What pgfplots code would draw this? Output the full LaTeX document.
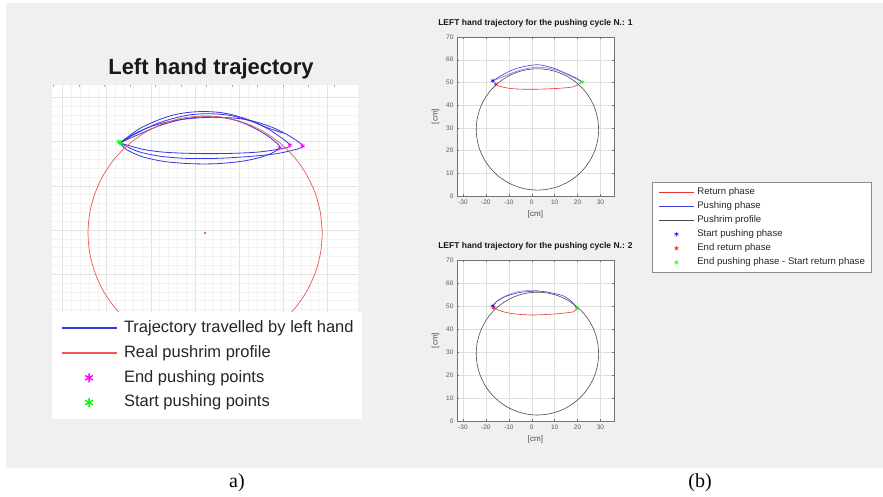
\documentclass[border=0pt]{standalone}
\usepackage{pgfplots}
\pgfplotsset{compat=1.18}
\usepackage{fontspec}
\setmainfont{Liberation Sans}
\newfontfamily\serifF{Liberation Serif}
\definecolor{bgg}{HTML}{F0F0F0}
\definecolor{txt}{HTML}{262626}
\definecolor{ablue}{HTML}{3838E0}
\definecolor{ared}{HTML}{F05555}
\definecolor{bblue}{HTML}{4040DC}
\definecolor{bred}{HTML}{E83535}
\definecolor{circ}{HTML}{4A4A4A}
\definecolor{mgreen}{HTML}{00FF00}
\definecolor{mmag}{HTML}{FF00FF}
\begin{document}
\begin{tikzpicture}
\useasboundingbox (0pt,0pt) rectangle (883pt,497pt);
\fill[white] (0pt,0pt) rectangle (883pt,497pt);
\fill[bgg] (6pt,29pt) rectangle (883pt,494pt);

% ---------------- panel a ----------------
\begin{axis}[
  at={(52pt,82pt)}, anchor=south west,
  scale only axis, width=306pt, height=330pt,
  xmin=-32.35, xmax=36.9, ymin=-11.86, ymax=62.8,
  axis background/.style={fill=white},
  axis line style={draw=none},
  xtick={-30,-20,...,30}, ytick={-10,0,...,60},
  minor tick num=4,
  grid=both,
  major grid style={color=black!11, line width=0.4pt},
  minor grid style={color=black!5, line width=0.4pt},
  xticklabels={}, yticklabels={},
  major tick length=0pt, minor tick length=0pt,
  xtick pos=upper, ytick pos=left, tick align=inside,
  extra x ticks={-32.05,-26.28,-20.5,-14.73,-8.96,-3.19,2.58,8.35,14.12,19.89,25.66,31.43},
  extra x tick labels={},
  extra x tick style={grid=none, major tick length=2pt, tick style={black!35, line width=0.4pt}},
  title={Left hand trajectory},
  title style={font=\bfseries\fontsize{22}{24}\selectfont, text=black!90, xshift=6pt, yshift=-4pt},
  legend cell align=left,
  legend image code/.code={\draw[mark repeat=2,mark phase=2,#1, line width=1.4pt, mark size=4.5pt] plot coordinates {(0pt,0pt)(27.5pt,0pt)(55pt,0pt)};},
  legend style={at={(0,0.3121)}, anchor=north west, draw=none, fill=white,
    font=\fontsize{16.5}{18}\selectfont, text=txt, inner xsep=8.7pt, inner ysep=8.2pt,
    row sep=9.3pt, nodes={inner sep=0pt, text height=12pt, text depth=3.5pt},
    /tikz/every odd column/.append style={column sep=6.7pt}},
]
\addplot[ablue, line width=0.8pt, smooth] coordinates {(-17.0,49.7) (-14,51.6) (-10,53.4) (-5,54.7) (0,55.3) (5,55.5) (10,55.2) (14,54.4) (18,53.0) (21.5,51.2) (24.4,49.0) (22,48.0) (18,47.2) (12,46.6) (5,46.2) (-2,46.2) (-8,46.7) (-13,47.8) (-17.0,49.7)};
\addlegendentry{Trajectory travelled by left hand}
\addplot[ablue, line width=0.8pt, smooth, forget plot] coordinates {(-17,49.7) (-13,51.5) (-8,53.6) (-3,55.0) (2,55.6) (7,55.3) (11,54.2) (15,52.2) (17.5,50.5) (19.2,48.6) (16,46.8) (11,45.6) (5,45.0) (-1,45.0) (-7,45.5) (-12,46.6) (-15.5,48.2) (-17,49.7)};
\addplot[ablue, line width=0.8pt, smooth, forget plot] coordinates {(-17,49.7) (-13,52.0) (-8,54.3) (-2,55.9) (3,56.3) (8,55.9) (13,54.5) (17,52.6) (21.5,49.2) (19,48.3) (14,47.6) (7,47.3) (0,47.3) (-7,47.6) (-12,48.3) (-17,49.7)};
\addplot[ablue, line width=0.8pt, smooth, forget plot] coordinates {(-17.0,49.7) (-15,51.2) (-12.4,53.0) (-8.5,54.8) (-4.9,56.0) (-1.5,56.6) (1.9,56.8) (5.5,56.6) (8.7,56.0) (12.5,54.8) (16.2,53.2) (20.0,51.9)};
\addplot[ared, line width=0.7pt, smooth] coordinates {
(28.8,29.3) (28.40,33.90) (27.20,38.36) (25.25,42.55) (22.60,46.33) (19.33,49.60) (15.55,52.25) (11.36,54.20) (6.90,55.40) (2.3,55.8) (-2.30,55.40) (-6.76,54.20) (-10.95,52.25) (-14.73,49.60) (-18.00,46.33) (-20.65,42.55) (-22.60,38.36) (-23.80,33.90) (-24.2,29.3) (-23.80,24.70) (-22.60,20.24) (-20.65,16.05) (-18.00,12.27) (-14.73,9.00) (-10.95,6.35) (-6.76,4.40) (-2.30,3.20) (2.3,2.8) (6.90,3.20) (11.36,4.40) (15.55,6.35) (19.33,9.00) (22.60,12.27) (25.25,16.05) (27.20,20.24) (28.40,24.70) (28.8,29.3) (28.40,33.90)};
\addlegendentry{Real pushrim profile}
\addplot[only marks, mark=asterisk, mark size=2.5pt, color=mmag, line width=0.6pt] coordinates {(19.2,48.6) (21.5,49.2) (24.4,49.0)};
\addlegendentry{End pushing points}
\addplot[only marks, mark=asterisk, mark size=2.5pt, color=mgreen, line width=0.6pt] coordinates {(-17.0,49.7) (-16.7,49.4) (-17.2,50.0)};
\addlegendentry{Start pushing points}
\addplot[only marks, mark=*, mark size=1pt, color=ared, forget plot] coordinates {(2.3,29.3)};
\end{axis}

% ---------------- panel b, cycle 1 ----------------
\begin{axis}[
  at={(457pt,301pt)}, anchor=south west,
  scale only axis, width=157pt, height=159pt,
  xmin=-32.6, xmax=35.9, ymin=0, ymax=70,
  axis background/.style={fill=white},
  xtick={-30,-20,-10,0,10,20,30}, xticklabels={-30,-20,-10,0,10,20,30},
  ytick={0,10,20,30,40,50,60,70}, yticklabels={0,10,20,30,40,50,60,70},
  grid=major, major grid style={black!12, line width=0.4pt},
  axis line style={black!55, line width=0.5pt},
  tick align=inside, major tick length=2pt, tick style={black!55, line width=0.4pt},
  ticklabel style={font=\fontsize{6.5}{7}\selectfont, text=black!65},
  xlabel={[cm]}, ylabel={[cm]},
  label style={font=\fontsize{8}{9}\selectfont, text=black!70},
  title={LEFT hand trajectory for the pushing cycle N.: 1},
  title style={font=\bfseries\fontsize{8.5}{10}\selectfont, text=black!90},
  legend cell align=left,
  legend image code/.code={\draw[mark repeat=2,mark phase=2,#1] plot coordinates {(0pt,0pt)(17.2pt,0pt)(34.3pt,0pt)};},
  legend style={at={(1.244,0.0862)}, anchor=north west, draw=black!45, line width=0.4pt, fill=white,
    font=\fontsize{9.6}{11}\selectfont, text=txt, inner xsep=6.5pt, inner ysep=4.7pt,
    row sep=4.6pt, nodes={inner sep=0pt, text height=7.2pt, text depth=2.3pt},
    /tikz/every odd column/.append style={column sep=3.4pt}},
]
\addplot[bred, line width=0.6pt, smooth] coordinates {(22.0,50.2) (18.2,48.1) (13,47.5) (8.0,47.2) (2,47.0) (-3.7,47.0) (-9,47.3) (-12.4,47.9) (-14.5,48.5) (-15.6,49.2)};
\addlegendentry{Return phase}
\addplot[bblue, line width=0.6pt, smooth] coordinates {(-17.0,50.7) (-14,52.6) (-9.5,55.0) (-5,56.6) (0,57.6) (2,57.8) (5,57.5) (10,56.1) (14,54.4) (19.7,51.8) (22.0,50.2)};
\addlegendentry{Pushing phase}
\addplot[bblue!70, line width=0.6pt, smooth, forget plot] coordinates {(-17.0,50.7) (-13,52.3) (-8,54.4) (-3,55.9) (2,56.7) (7,56.3) (12,55.0) (17,52.7) (22.0,50.2)};
\addplot[circ, line width=0.6pt, smooth] coordinates {
(29.2,29.3) (28.79,33.94) (27.59,38.43) (25.62,42.65) (22.95,46.46) (19.66,49.75) (15.85,52.42) (11.63,54.39) (7.14,55.59) (2.5,56.0) (-2.14,55.59) (-6.63,54.39) (-10.85,52.42) (-14.66,49.75) (-17.95,46.46) (-20.62,42.65) (-22.59,38.43) (-23.79,33.94) (-24.2,29.3) (-23.79,24.66) (-22.59,20.17) (-20.62,15.95) (-17.95,12.14) (-14.66,8.85) (-10.85,6.18) (-6.63,4.21) (-2.14,3.01) (2.5,2.6) (7.14,3.01) (11.63,4.21) (15.85,6.18) (19.66,8.85) (22.95,12.14) (25.62,15.95) (27.59,20.17) (28.79,24.66) (29.2,29.3) (28.79,33.94)};
\addlegendentry{Pushrim profile}
\addplot[only marks, mark=asterisk, mark size=2.3pt, color=blue, line width=0.5pt] coordinates {(-17.0,50.7)};
\addlegendentry{Start pushing phase}
\addplot[only marks, mark=asterisk, mark size=2.3pt, color=red, line width=0.5pt] coordinates {(-15.6,49.2)};
\addlegendentry{End return phase}
\addplot[only marks, mark=asterisk, mark size=2.3pt, color=mgreen, line width=0.5pt] coordinates {(22.0,50.2)};
\addlegendentry{End pushing phase - Start return phase}
\end{axis}

% ---------------- panel b, cycle 2 ----------------
\begin{axis}[
  at={(457pt,76pt)}, anchor=south west,
  scale only axis, width=157pt, height=161pt,
  xmin=-32.6, xmax=35.9, ymin=0, ymax=70,
  axis background/.style={fill=white},
  xtick={-30,-20,-10,0,10,20,30}, xticklabels={-30,-20,-10,0,10,20,30},
  ytick={0,10,20,30,40,50,60,70}, yticklabels={0,10,20,30,40,50,60,70},
  grid=major, major grid style={black!12, line width=0.4pt},
  axis line style={black!55, line width=0.5pt},
  tick align=inside, major tick length=2pt, tick style={black!55, line width=0.4pt},
  ticklabel style={font=\fontsize{6.5}{7}\selectfont, text=black!65},
  xlabel={[cm]}, ylabel={[cm]},
  label style={font=\fontsize{8}{9}\selectfont, text=black!70},
  title={LEFT hand trajectory for the pushing cycle N.: 2},
  title style={font=\bfseries\fontsize{8.5}{10}\selectfont, text=black!90},
]
\addplot[bred, line width=0.6pt, smooth] coordinates {(19.7,49.0) (18.2,47.5) (13,46.8) (8.0,46.4) (2,46.1) (-0.7,46.1) (-6,46.4) (-10.9,47.1) (-14,48.0) (-16.6,49.3)};
\addplot[bblue!60, line width=0.6pt, smooth] coordinates {(-17.0,50.0) (-15,52.3) (-11,54.6) (-6,56.2) (-1,56.8) (3,56.6)};
\addplot[bblue, line width=0.6pt, smooth] coordinates {(-17.0,50.0) (-15.3,51.9) (-12,53.8) (-9.5,54.8) (-5,55.9) (0,56.4) (2.2,56.5) (6,56.2) (10,55.4) (13.8,54.4) (17,52.3) (19.7,49.0)};
\addplot[circ, line width=0.6pt, smooth] coordinates {
(29.2,29.3) (28.79,33.94) (27.59,38.43) (25.62,42.65) (22.95,46.46) (19.66,49.75) (15.85,52.42) (11.63,54.39) (7.14,55.59) (2.5,56.0) (-2.14,55.59) (-6.63,54.39) (-10.85,52.42) (-14.66,49.75) (-17.95,46.46) (-20.62,42.65) (-22.59,38.43) (-23.79,33.94) (-24.2,29.3) (-23.79,24.66) (-22.59,20.17) (-20.62,15.95) (-17.95,12.14) (-14.66,8.85) (-10.85,6.18) (-6.63,4.21) (-2.14,3.01) (2.5,2.6) (7.14,3.01) (11.63,4.21) (15.85,6.18) (19.66,8.85) (22.95,12.14) (25.62,15.95) (27.59,20.17) (28.79,24.66) (29.2,29.3) (28.79,33.94)};
\addplot[only marks, mark=asterisk, mark size=2.3pt, color=blue, line width=0.5pt] coordinates {(-17.0,50.0)};
\addplot[only marks, mark=asterisk, mark size=2.3pt, color=red, line width=0.5pt] coordinates {(-16.6,49.3)};
\addplot[only marks, mark=asterisk, mark size=2.3pt, color=mgreen, line width=0.5pt] coordinates {(19.7,49.0)};
\end{axis}

\node[font=\serifF\fontsize{20}{22}\selectfont, text=black] at (237pt,14pt) {a)};
\node[font=\serifF\fontsize{20}{22}\selectfont, text=black] at (700pt,14pt) {(b)};
\end{tikzpicture}
\end{document}
